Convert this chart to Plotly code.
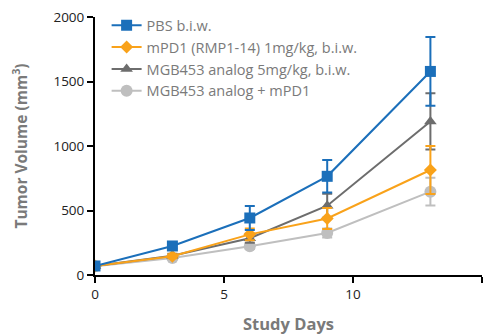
import plotly.graph_objects as go

days = [0, 3, 6, 9, 13]
names = ["PBS b.i.w.", "mPD1 (RMP1-14) 1mg/kg, b.i.w.",
         "MGB453 analog 5mg/kg, b.i.w.", "MGB453 analog + mPD1"]
pbs = [70, 225, 442, 765, 1578]
pbs_err = [10, 20, 93, 126, 266]
mpd1 = [70, 145, 315, 438, 814]
mpd1_err = [8, 15, 45, 82, 186]
mgb = [70, 150, 285, 537, 1190]
mgb_err = [8, 15, 35, 93, 218]
combo = [68, 132, 222, 326, 646]
combo_err = [8, 12, 20, 35, 108]

series = [pbs, mpd1, mgb, combo]
errs = [pbs_err, mpd1_err, mgb_err, combo_err]
colors = ["#1b6fba", "#f9a21a", "#6d6d6d", "#bfbfbf"]
symbols = ["square", "diamond", "triangle-up", "circle"]
sizes = [11, 10, 11, 12]

fig = go.Figure()
# add in reverse so PBS is drawn on top
for i in [3, 2, 1, 0]:
    fig.add_trace(go.Scatter(
        x=days, y=series[i], name=names[i], mode="lines+markers",
        line=dict(color=colors[i], width=2),
        marker=dict(symbol=symbols[i], size=sizes[i], color=colors[i]),
        error_y=dict(type="data", array=errs[i], visible=True,
                     color=colors[i], thickness=2, width=5),
    ))

fig.update_layout(
    width=488, height=335,
    margin=dict(l=95, r=6, t=17, b=60, autoexpand=False),
    plot_bgcolor="white", paper_bgcolor="white",
    font=dict(family="Open Sans, sans-serif", color="#222"),
    legend=dict(x=0.03, y=1.03, xanchor="left", yanchor="top",
                traceorder="reversed",
                font=dict(size=14.5, color="#7a7a7a"),
                bgcolor="rgba(0,0,0,0)", itemwidth=30, tracegroupgap=0),
    showlegend=True,
)
fig.update_xaxes(
    range=[0, 15], tickvals=[0, 5, 10, 15], showgrid=False, zeroline=False,
    showline=True, linecolor="black", linewidth=2, ticks="outside",
    tickcolor="black", tickwidth=2, ticklen=6, tickfont=dict(size=13.5, color="#222"),
    automargin=False,
    title=dict(text="<b>Study Days</b>", font=dict(size=16.5, color="#7a7a7a"), standoff=18),
)
fig.update_yaxes(
    range=[0, 2000], tickvals=[0, 500, 1000, 1500, 2000], showgrid=False,
    zeroline=False, showline=True, linecolor="black", linewidth=2,
    ticks="outside", tickcolor="black", tickwidth=2, ticklen=6,
    tickfont=dict(size=13.5, color="#222"),
    automargin=False,
    title=dict(text="<b>Tumor Volume (mm<sup>3</sup>)</b>",
               font=dict(size=15.5, color="#7a7a7a"), standoff=22),
)
fig.write_html("out.html")
